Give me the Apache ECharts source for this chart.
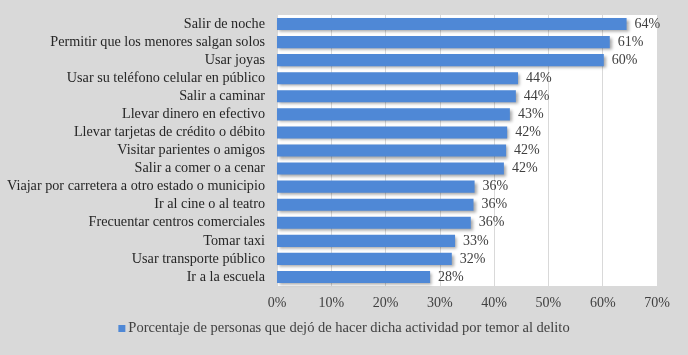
<!DOCTYPE html>
<html>
<head>
<meta charset="utf-8">
<script src="https://cdn.jsdelivr.net/npm/echarts@6/dist/echarts.min.js"></script>
<style>
  html, body { margin: 0; padding: 0; background: #d9d9d9; }
  #chart { width: 688px; height: 355px; }
</style>
</head>
<body>
<div id="chart"></div>
<script>
const categories = [
  'Salir de noche',
  'Permitir que los menores salgan solos',
  'Usar joyas',
  'Usar su teléfono celular en público',
  'Salir a caminar',
  'Llevar dinero en efectivo',
  'Llevar tarjetas de crédito o débito',
  'Visitar parientes o amigos',
  'Salir a comer o a cenar',
  'Viajar por carretera a otro estado o municipio',
  'Ir al cine o al teatro',
  'Frecuentar centros comerciales',
  'Tomar taxi',
  'Usar transporte público',
  'Ir a la escuela'
];
const values = [64.4, 61.3, 60.2, 44.4, 44.0, 42.9, 42.4, 42.2, 41.8, 36.4, 36.2, 35.7, 32.8, 32.2, 28.2];
const tickValues = [0, 10, 20, 30, 40, 50, 60, 70];
const seriesName = 'Porcentaje de personas que dejó de hacer dicha actividad por temor al delito';

const font = 'Liberation Serif';
const chart = echarts.init(document.getElementById('chart'));

chart.setOption({
  backgroundColor: '#d9d9d9',
  textStyle: { fontFamily: font },
  grid: {
    left: 277, right: 31, top: 15, height: 271,
    show: true, backgroundColor: '#ffffff', borderWidth: 0,
    containLabel: false
  },
  legend: {
    bottom: 14,
    left: 'center',
    itemWidth: 7, itemHeight: 7,
    itemGap: 4,
    icon: 'rect',
    textStyle: { fontFamily: font, fontSize: 14.5, color: '#404040', padding: [0, 0, 0, -2] },
    data: [seriesName]
  },
  xAxis: {
    type: 'value',
    min: tickValues[0],
    max: tickValues[tickValues.length - 1],
    interval: 10,
    axisLine: { show: false },
    axisTick: { show: false },
    splitLine: { lineStyle: { color: '#d9d9d9', width: 1 } },
    axisLabel: {
      formatter: v => v + '%',
      color: '#404040', fontFamily: font, fontSize: 14, margin: 10
    }
  },
  yAxis: {
    type: 'category',
    inverse: true,
    data: categories,
    axisLine: { show: false },
    axisTick: { show: false },
    axisLabel: {
      interval: 0,
      color: '#262626', fontFamily: font, fontSize: 14.2, margin: 12
    }
  },
  series: [{
    name: seriesName,
    type: 'bar',
    data: values,
    barCategoryGap: '33%',
    itemStyle: {
      color: '#4f88d6',
      shadowColor: 'rgba(0,0,0,0.35)',
      shadowBlur: 3,
      shadowOffsetX: 2,
      shadowOffsetY: 2
    },
    label: {
      show: true,
      position: 'right',
      distance: 8,
      formatter: p => Math.round(p.value) + '%',
      color: '#404040', fontFamily: font, fontSize: 14
    }
  }]
});
</script>
</body>
</html>
